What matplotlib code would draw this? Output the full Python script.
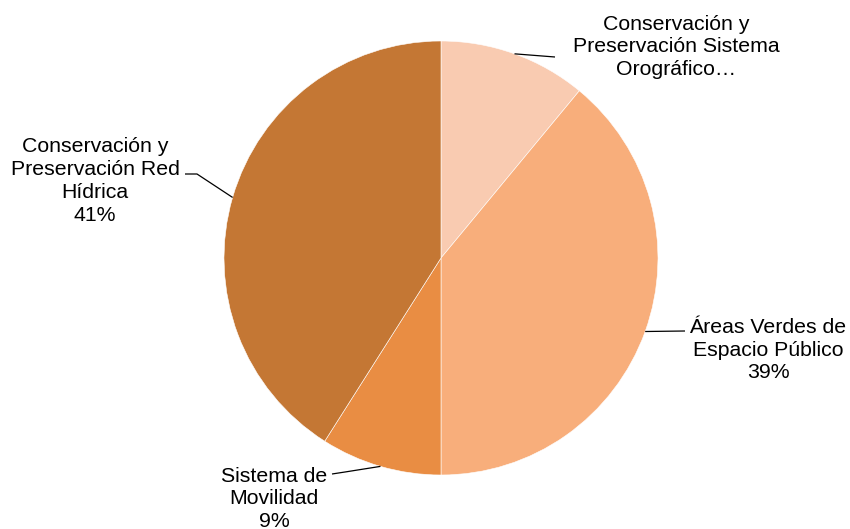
import matplotlib
matplotlib.use("Agg")
import matplotlib.pyplot as plt
import numpy as np

categories = ["Conservación y Preservación Sistema Orográfico",
              "Áreas Verdes de Espacio Público",
              "Sistema de Movilidad",
              "Conservación y Preservación Red Hídrica"]
values = [11, 39, 9, 41]
label_texts = ["Conservación y\nPreservación Sistema\nOrográfico…",
               "Áreas Verdes de\nEspacio Público\n39%",
               "Sistema de\nMovilidad\n9%",
               "Conservación y\nPreservación Red\nHídrica\n41%"]
colors = ["#F9CBB1", "#F8AE7B", "#E98D43", "#C47734"]

plt.rcParams['font.family'] = ['Liberation Sans', 'DejaVu Sans']

W, H = 850, 529
fig = plt.figure(figsize=(W / 100, H / 100), dpi=100)
ax = fig.add_axes([0, 0, 1, 1])
cx, cy, R = 441, 258, 217

def d(px, py):
    return ((px - cx) / R, (cy - py) / R)

x0, _ = d(0, 0)
x1, _ = d(W, 0)
_, y1 = d(0, 0)
_, y0 = d(0, H)

wedges, _ = ax.pie(values, colors=colors, startangle=90, counterclock=False,
                   radius=1, center=(0, 0), frame=True,
                   wedgeprops=dict(edgecolor="white", linewidth=0.4))
ax.set_xlim(x0, x1)
ax.set_ylim(y0, y1)
ax.set_aspect("auto")
ax.axis("off")

# leader line bend points and text anchors (pixels)
line_pts = [[(555, 57)],
            [(685, 331)],
            [(345, 472), (332, 474)],
            [(197, 174), (185, 174)]]
text_pos = [(676, 47, "center"), (768, 350, "center"), (274, 499, "center"), (95, 181, "center")]

for w, pts, (tx, ty, ha), lab in zip(wedges, line_pts, text_pos, label_texts):
    ang = np.deg2rad((w.theta1 + w.theta2) / 2)
    ex, ey = np.cos(ang), np.sin(ang)
    xs = [ex] + [d(*p)[0] for p in pts]
    ys = [ey] + [d(*p)[1] for p in pts]
    ax.plot(xs, ys, color="black", lw=0.9, solid_capstyle="butt")
    px, py = d(tx, ty)
    ax.text(px, py, lab, ha=ha, va="center", fontsize=15.3, linespacing=1.25,
            color="black")

fig.savefig("out.png", dpi=100)
